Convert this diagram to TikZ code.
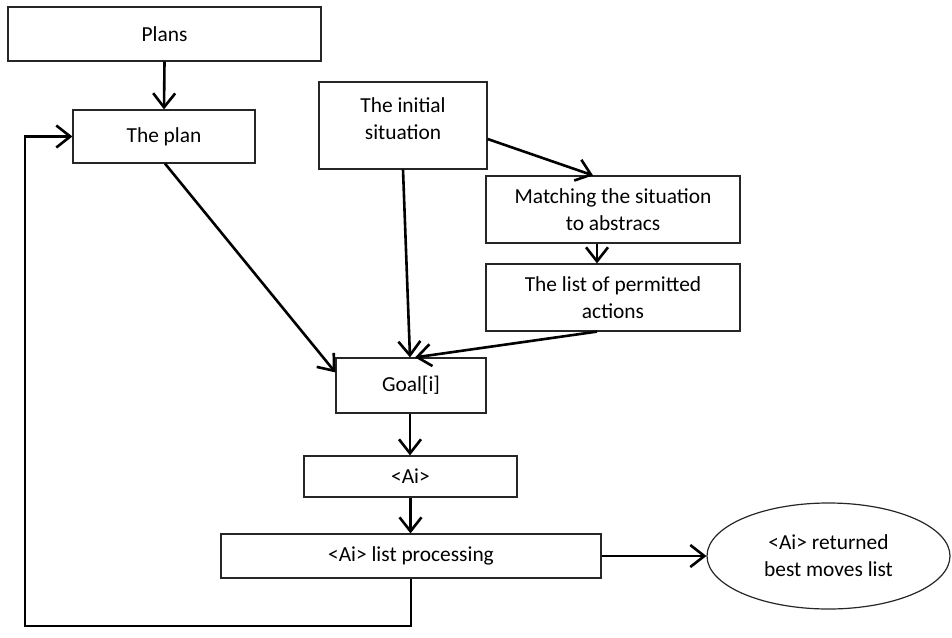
\documentclass[tikz,border=0pt]{standalone}
\usepackage{fontspec}
\setmainfont{Carlito}
\usetikzlibrary{arrows.meta,shapes.geometric,calc}
\tikzset{
  box/.style={draw=black!85, line width=1.2pt, rectangle, inner sep=0pt, align=center,
    font=\fontsize{21.4}{27}\selectfont},
  conn/.style={line width=2.6pt, -{Straight Barb[length=14pt,width=22pt,line width=2.6pt]}},
}
\begin{document}
\begin{tikzpicture}[x=1pt,y=-1pt]
\useasboundingbox (0,0) rectangle (952,637);
\node[box, minimum width=313, minimum height=54] (plans) at (164.5,34) {Plans};
\node[box, minimum width=182, minimum height=53] (plan) at (164,136.5) {The plan};
\node[box, minimum width=168, minimum height=87] (init) at (403,125.5) {};
\node[box, draw=none] (inittxt) at (403,118.5) {The initial\\situation};
\node[box, minimum width=254, minimum height=67] (match) at (613,209.5) {Matching the situation\\to abstracs};
\node[box, minimum width=254, minimum height=67] (list) at (613,297.5) {The list of permitted\\actions};
\node[box, minimum width=150, minimum height=55] (goal) at (411,385.5) {Goal[i]};
\node[box, minimum width=213, minimum height=41] (ai) at (410.5,476.5) {<Ai>};
\node[box, minimum width=380, minimum height=44] (proc) at (411,556) {<Ai> list processing};
\node[box, ellipse, minimum width=243, minimum height=106] (ell) at (828.5,556) {<Ai> returned\\best moves list};
\coordinate (c1) at (411,626);
\coordinate (c2) at (25,626);
\coordinate (c3) at (25,136.5);

\draw[conn] (plans.south) -- (plan.north);
\draw[conn] ($(plan.south)+(1,0)$) -- ($(goal.north west)+(0,15)$);
\draw[conn] (init.south) -- ($(goal.north)+(-1,0)$);
\draw[conn] ($(list.south)+(-16,0)$) -- ($(goal.north)+(4,0)$);
\draw[conn] ($(init.east)+(0,13.5)$) -- ($(match.north)+(-20,0)$);
\draw[conn] ($(match.south)+(-16,0)$) -- ($(list.north)+(-16,0)$);
\draw[conn] ($(goal.south)+(-1,0)$) -- ($(ai.north)+(-0.5,0)$);
\draw[conn] (ai.south) -- ($(proc.north)+(-0.5,0)$);
\draw[conn] (proc.east) -- (ell.west);
\draw[conn] (proc.south) -- (c1) -- (c2) -- (c3) -- (plan.west);
\end{tikzpicture}
\end{document}
